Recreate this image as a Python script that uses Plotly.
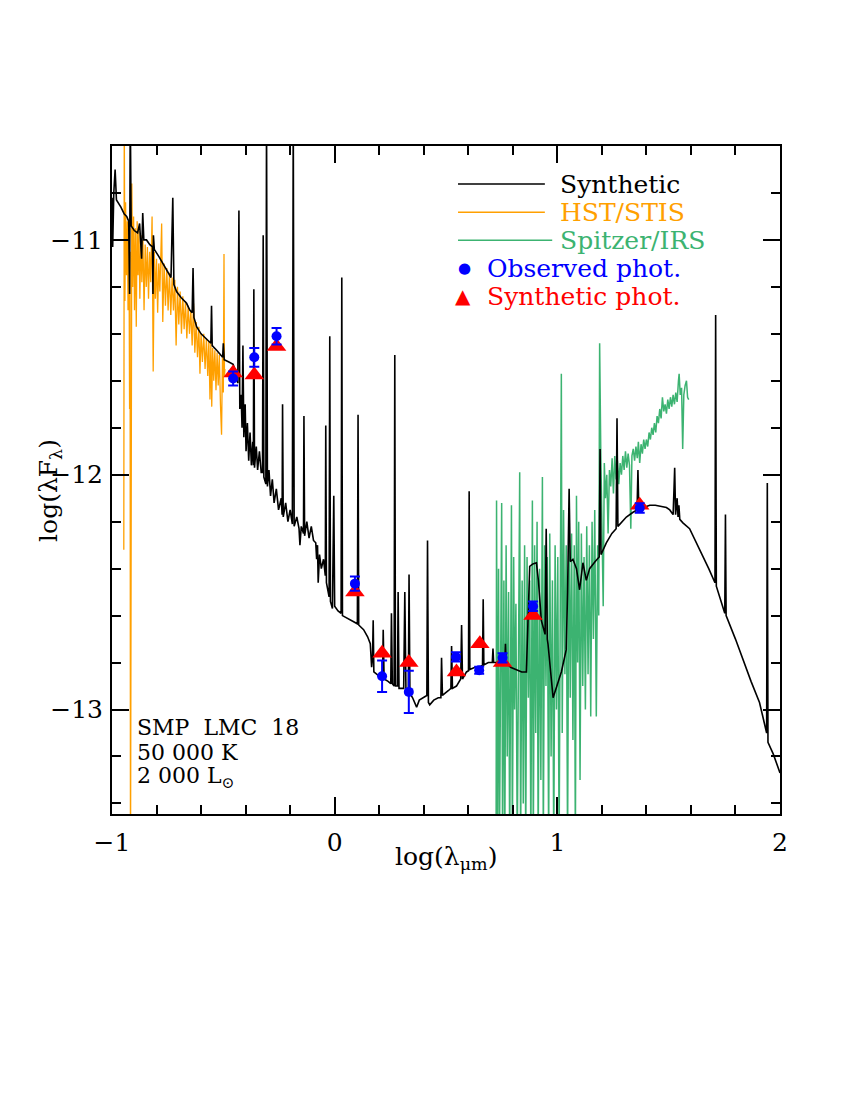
import plotly.graph_objects as go

# synthetic spectrum (log lambda [um], log lambda*F_lambda)
synthetic_pts = [
    [-1.000, -10.82], [-0.997, -11.03], [-0.992, -10.80], [-0.986, -10.70], [-0.980, -10.83],
    [-0.960, -10.86], [-0.945, -10.89], [-0.934, -10.90], [-0.925, -10.92], [-0.921, -11.23],
    [-0.918, -10.45], [-0.914, -10.94], [-0.900, -10.96], [-0.885, -10.97], [-0.876, -10.93],
    [-0.872, -10.99], [-0.867, -11.08], [-0.862, -10.885], [-0.857, -11.00], [-0.845, -11.00],
    [-0.830, -11.02], [-0.818, -11.03], [-0.816, -11.23], [-0.814, -10.98], [-0.810, -11.04],
    [-0.790, -11.07], [-0.760, -11.12], [-0.735, -11.16], [-0.727, -10.82], [-0.722, -11.19],
    [-0.710, -11.22], [-0.690, -11.245], [-0.665, -11.27], [-0.650, -11.30], [-0.640, -11.31],
    [-0.636, -11.12], [-0.632, -11.33], [-0.620, -11.37], [-0.600, -11.40], [-0.580, -11.42],
    [-0.556, -11.44], [-0.553, -11.28], [-0.550, -11.45], [-0.530, -11.47], [-0.503, -11.50],
    [-0.500, -11.44], [-0.496, -11.51], [-0.475, -11.52], [-0.456, -11.53], [-0.445, -11.56],
    [-0.435, -11.61], [-0.430, -10.875], [-0.426, -11.72], [-0.420, -11.66], [-0.416, -11.80],
    [-0.412, -11.45], [-0.408, -11.84], [-0.402, -11.70], [-0.398, -11.90], [-0.392, -11.78],
    [-0.386, -11.94], [-0.380, -11.82], [-0.374, -11.96], [-0.368, -11.86], [-0.365, -11.96],
    [-0.363, -11.21], [-0.360, -11.97], [-0.352, -11.88], [-0.346, -11.98], [-0.338, -11.90],
    [-0.330, -11.99], [-0.324, -11.99], [-0.321, -10.98], [-0.318, -12.01], [-0.309, -12.04],
    [-0.306, -10.45], [-0.302, -12.05], [-0.295, -11.98], [-0.288, -12.09], [-0.280, -12.02],
    [-0.272, -12.12], [-0.262, -12.06], [-0.252, -12.15], [-0.240, -12.10], [-0.236, -12.17],
    [-0.234, -11.70], [-0.231, -12.18], [-0.220, -12.12], [-0.210, -12.20], [-0.200, -12.15],
    [-0.190, -12.21], [-0.186, -10.45], [-0.182, -12.22], [-0.170, -12.18], [-0.160, -12.23],
    [-0.156, -12.30], [-0.150, -12.22], [-0.140, -12.25], [-0.138, -11.75], [-0.135, -12.26],
    [-0.125, -12.20], [-0.115, -12.27], [-0.105, -12.22], [-0.095, -12.28], [-0.085, -12.29],
    [-0.081, -12.36], [-0.077, -12.30], [-0.074, -12.46], [-0.068, -12.34], [-0.060, -12.40],
    [-0.050, -12.36], [-0.042, -12.43], [-0.040, -11.79], [-0.037, -12.46], [-0.025, -12.52],
    [-0.022, -11.41], [-0.019, -12.54], [-0.010, -12.57], [-0.004, -12.09], [0.000, -12.56],
    [0.015, -12.58], [0.029, -12.59], [0.032, -11.16], [0.035, -12.60], [0.053, -12.61],
    [0.070, -12.62], [0.090, -12.63], [0.102, -12.635], [0.105, -11.745], [0.108, -12.64],
    [0.130, -12.66], [0.148, -12.69], [0.160, -12.72], [0.166, -12.82], [0.170, -12.78],
    [0.173, -12.62], [0.176, -12.84], [0.200, -12.86], [0.215, -12.87], [0.218, -12.66],
    [0.222, -12.87], [0.240, -12.88], [0.252, -12.89], [0.255, -12.59], [0.259, -12.89],
    [0.267, -12.90], [0.270, -11.49], [0.273, -12.90], [0.282, -12.90], [0.285, -12.50],
    [0.289, -12.91], [0.310, -12.91], [0.315, -12.50], [0.320, -12.91], [0.331, -12.92],
    [0.334, -12.425], [0.338, -12.93], [0.350, -12.95], [0.368, -12.99], [0.380, -12.96],
    [0.400, -12.95], [0.414, -12.94], [0.417, -12.28], [0.421, -12.97], [0.427, -12.98],
    [0.445, -12.96], [0.465, -12.95], [0.477, -12.95], [0.480, -12.78], [0.484, -12.94],
    [0.510, -12.92], [0.522, -12.91], [0.525, -12.73], [0.529, -12.91], [0.547, -12.90],
    [0.566, -12.87], [0.570, -12.64], [0.574, -12.87], [0.592, -12.84], [0.601, -12.835],
    [0.604, -12.07], [0.607, -12.83], [0.630, -12.82], [0.652, -12.82], [0.664, -12.81],
    [0.667, -12.53], [0.670, -12.81], [0.690, -12.80], [0.708, -12.80], [0.711, -12.74],
    [0.714, -12.80], [0.740, -12.80], [0.764, -12.80], [0.767, -12.72], [0.770, -12.80],
    [0.790, -12.82], [0.816, -12.83], [0.840, -12.84], [0.861, -12.84], [0.866, -12.65],
    [0.872, -12.45], [0.876, -12.39], [0.890, -12.38], [0.906, -12.375], [0.915, -12.45],
    [0.928, -12.62], [0.945, -12.68], [0.950, -12.23], [0.955, -12.70], [0.958, -12.72],
    [0.981, -12.95], [1.000, -12.89], [1.018, -12.84], [1.040, -12.745], [1.046, -12.50],
    [1.053, -12.06], [1.058, -12.37], [1.070, -12.36], [1.086, -12.40], [1.100, -12.49],
    [1.115, -12.375], [1.130, -12.45], [1.145, -12.40], [1.170, -12.37], [1.188, -12.35],
    [1.192, -11.89], [1.196, -12.34], [1.220, -12.29], [1.245, -12.25], [1.264, -12.23],
    [1.268, -11.76], [1.272, -12.22], [1.290, -12.20], [1.310, -12.18], [1.340, -12.16],
    [1.358, -12.15], [1.362, -11.98], [1.366, -12.15], [1.400, -12.135], [1.415, -12.13],
    [1.440, -12.13], [1.470, -12.135], [1.490, -12.14], [1.505, -12.15], [1.520, -12.17],
    [1.524, -12.06], [1.527, -11.97], [1.531, -12.17], [1.538, -12.10], [1.542, -12.18],
    [1.546, -12.13], [1.550, -12.19], [1.564, -12.205], [1.594, -12.23], [1.620, -12.28],
    [1.640, -12.32], [1.680, -12.40], [1.708, -12.46], [1.711, -11.32], [1.714, -12.475],
    [1.740, -12.55], [1.752, -12.59], [1.755, -12.17], [1.758, -12.60], [1.800, -12.70],
    [1.834, -12.79], [1.870, -12.88], [1.908, -12.97], [1.940, -13.10], [1.943, -12.035],
    [1.946, -13.14], [1.970, -13.19], [2.000, -13.27],
]

# HST/STIS spectrum
stis_pts = [
    [-0.947, -12.32], [-0.945, -10.45], [-0.942, -11.26], [-0.939, -10.84], [-0.935, -11.15],
    [-0.931, -10.92], [-0.928, -11.30], [-0.924, -10.95], [-0.921, -11.72], [-0.919, -11.05],
    [-0.917, -13.80], [-0.914, -11.10], [-0.911, -10.76], [-0.907, -11.20], [-0.903, -10.90],
    [-0.899, -11.30], [-0.895, -10.95], [-0.891, -11.37], [-0.887, -10.92], [-0.883, -11.15],
    [-0.879, -10.96], [-0.875, -11.25], [-0.870, -10.98], [-0.866, -11.18], [-0.861, -11.00],
    [-0.856, -11.30], [-0.851, -11.02], [-0.846, -11.20], [-0.841, -11.03], [-0.836, -11.25],
    [-0.831, -11.05], [-0.826, -11.18], [-0.820, -10.90], [-0.815, -11.56], [-0.810, -11.05],
    [-0.805, -11.25], [-0.800, -11.08], [-0.795, -11.31], [-0.790, -11.10], [-0.785, -11.22],
    [-0.777, -10.93], [-0.772, -11.35], [-0.766, -11.10], [-0.760, -11.28], [-0.754, -11.12],
    [-0.748, -11.30], [-0.742, -11.14], [-0.736, -11.32], [-0.730, -11.16], [-0.724, -11.30],
    [-0.718, -11.17], [-0.712, -11.45], [-0.706, -11.20], [-0.700, -11.36], [-0.694, -11.22],
    [-0.688, -11.40], [-0.682, -11.24], [-0.676, -11.38], [-0.670, -11.26], [-0.664, -11.42],
    [-0.658, -11.28], [-0.652, -11.40], [-0.646, -11.30], [-0.640, -11.45], [-0.634, -11.27],
    [-0.628, -11.48], [-0.622, -11.35], [-0.616, -11.50], [-0.610, -11.37], [-0.605, -11.57],
    [-0.600, -11.40], [-0.594, -11.52], [-0.588, -11.40], [-0.582, -11.55], [-0.576, -11.42],
    [-0.570, -11.58], [-0.565, -11.43], [-0.560, -11.68], [-0.556, -11.44], [-0.552, -11.71],
    [-0.548, -11.46], [-0.543, -11.60], [-0.538, -11.47], [-0.533, -11.64], [-0.528, -11.48],
    [-0.523, -11.62], [-0.518, -11.49], [-0.513, -11.70], [-0.508, -11.83], [-0.504, -11.50],
    [-0.500, -11.65], [-0.497, -11.06], [-0.495, -11.58], [-0.493, -11.55],
]

# Spitzer/IRS spectrum
irs_pts = [
    [0.725, -13.60], [0.727, -12.11], [0.731, -13.60], [0.736, -12.40], [0.740, -13.60],
    [0.745, -12.60], [0.750, -12.12], [0.754, -13.60], [0.760, -12.45], [0.764, -13.60],
    [0.770, -12.30], [0.775, -13.20], [0.781, -12.50], [0.786, -13.60], [0.794, -12.13],
    [0.798, -13.60], [0.804, -12.35], [0.808, -13.00], [0.814, -12.55], [0.820, -13.60],
    [0.826, -12.40], [0.831, -11.99], [0.835, -13.60], [0.842, -12.45], [0.847, -13.40],
    [0.853, -12.30], [0.858, -13.60], [0.864, -12.35], [0.870, -12.95], [0.876, -12.45],
    [0.881, -13.60], [0.888, -12.11], [0.892, -13.60], [0.898, -12.30], [0.903, -13.10],
    [0.909, -12.20], [0.914, -13.60], [0.920, -12.40], [0.926, -13.30], [0.933, -12.01],
    [0.937, -13.60], [0.943, -12.30], [0.949, -12.90], [0.955, -12.35], [0.961, -13.60],
    [0.966, -12.25], [0.972, -13.20], [0.978, -12.45], [0.984, -13.60], [0.990, -12.30],
    [0.996, -13.00], [1.002, -12.35], [1.008, -13.60], [1.013, -12.20], [1.018, -11.57],
    [1.022, -13.10], [1.028, -12.15], [1.034, -12.85], [1.040, -12.30], [1.046, -13.60],
    [1.052, -12.18], [1.058, -12.95], [1.064, -12.25], [1.070, -13.13], [1.076, -12.30],
    [1.081, -13.60], [1.086, -12.09], [1.091, -12.80], [1.096, -12.20], [1.102, -13.30],
    [1.108, -12.25], [1.114, -12.90], [1.120, -12.35], [1.126, -13.00], [1.132, -12.22],
    [1.138, -12.85], [1.144, -12.30], [1.150, -13.03], [1.156, -12.20], [1.162, -12.70],
    [1.168, -12.15], [1.175, -13.03], [1.181, -12.30], [1.186, -12.60], [1.190, -11.44],
    [1.195, -11.89], [1.200, -12.20], [1.206, -12.56], [1.211, -11.95], [1.216, -12.10],
    [1.222, -12.00], [1.228, -12.25], [1.234, -11.98], [1.240, -12.05], [1.246, -11.93],
    [1.252, -12.08], [1.258, -11.92], [1.264, -12.02], [1.270, -11.94], [1.276, -12.04],
    [1.282, -11.95], [1.288, -12.00], [1.294, -11.92], [1.300, -11.98], [1.306, -11.90],
    [1.312, -11.97], [1.318, -11.91], [1.324, -11.96], [1.330, -12.23], [1.335, -11.92],
    [1.341, -11.89], [1.347, -11.94], [1.353, -11.88], [1.359, -11.93], [1.364, -11.86],
    [1.370, -11.95], [1.376, -11.87], [1.382, -11.91], [1.388, -11.85], [1.394, -11.89],
    [1.400, -11.85], [1.406, -11.88], [1.412, -11.82], [1.418, -11.85], [1.424, -11.80],
    [1.430, -11.83], [1.436, -11.78], [1.442, -11.82], [1.448, -11.75], [1.454, -11.78],
    [1.460, -11.72], [1.466, -11.76], [1.472, -11.67], [1.478, -11.73], [1.484, -11.70],
    [1.490, -11.74], [1.496, -11.68], [1.502, -11.72], [1.508, -11.67], [1.514, -11.71],
    [1.520, -11.66], [1.526, -11.70], [1.532, -11.65], [1.538, -11.69], [1.544, -11.60],
    [1.547, -11.57], [1.552, -11.66], [1.558, -11.63], [1.563, -11.89], [1.568, -11.66],
    [1.574, -11.62], [1.580, -11.60], [1.585, -11.67], [1.590, -11.68],
]

# photometry
obs_logw = [-0.456, -0.361, -0.261, 0.091, 0.213, 0.333, 0.545, 0.649, 0.754, 0.891, 1.370]
obs_logf = [-11.59, -11.50, -11.41, -12.464, -12.858, -12.925, -12.776, -12.833, -12.78, -12.56, -12.142]
obs_err = [0.03, 0.04, 0.035, 0.03, 0.067, 0.09, 0.02, 0.015, 0.02, 0.02, 0.02]

synphot_logw = [-0.456, -0.361, -0.261, 0.091, 0.213, 0.333, 0.547, 0.652, 0.754, 0.891, 1.370]
synphot_logf = [-11.567, -11.575, -11.454, -12.50, -12.76, -12.80, -12.84, -12.72, -12.80, -12.60, -12.13]

info_lines = ["SMP  LMC  18", "50 000 K", "2 000 L<sub>⊙</sub>"]

SERIF = "DejaVu Serif"
ORANGE = "#FFA000"
GREEN = "#3CB371"

fig = go.Figure()

fig.add_trace(go.Scatter(
    x=[p[0] for p in stis_pts], y=[p[1] for p in stis_pts],
    mode='lines', line=dict(color=ORANGE, width=1.3), name='HST/STIS'))
fig.add_trace(go.Scatter(
    x=[p[0] for p in irs_pts], y=[p[1] for p in irs_pts],
    mode='lines', line=dict(color=GREEN, width=1.5), name='Spitzer/IRS'))
fig.add_trace(go.Scatter(
    x=[p[0] for p in synthetic_pts], y=[p[1] for p in synthetic_pts],
    mode='lines', line=dict(color='black', width=1.6), name='Synthetic'))
fig.add_trace(go.Scatter(
    x=synphot_logw, y=synphot_logf, mode='markers',
    marker=dict(symbol='triangle-up', size=17, color='red'), name='Synthetic phot.'))
fig.add_trace(go.Scatter(
    x=obs_logw, y=obs_logf, mode='markers',
    marker=dict(symbol='circle', size=10, color='blue'),
    error_y=dict(type='data', array=obs_err, color='blue', thickness=2, width=5),
    name='Observed phot.'))

# legend drawn by hand (top right, inside the frame)
legend_lines = [("Synthetic", 'black', 0.943, 0.648),
                ("HST/STIS", ORANGE, 0.901, 0.648),
                ("Spitzer/IRS", GREEN, 0.859, 0.659)]
for label, col, yy, xend in legend_lines:
    fig.add_shape(type='line', xref='paper', yref='paper', x0=0.518, x1=xend, y0=yy, y1=yy,
                  line=dict(color=col, width=1.5))
    fig.add_annotation(xref='paper', yref='paper', x=0.668, y=yy, text=label, showarrow=False,
                       xanchor='left', yanchor='middle', font=dict(family=SERIF, size=25, color=col))

fig.add_annotation(xref='paper', yref='paper', x=0.527, y=0.817, text="●", showarrow=False,
                   xanchor='center', yanchor='middle', font=dict(family="DejaVu Sans", size=15, color='blue'))
fig.add_annotation(xref='paper', yref='paper', x=0.558, y=0.817, text="Observed phot.", showarrow=False,
                   xanchor='left', yanchor='middle', font=dict(family=SERIF, size=25, color='blue'))
fig.add_annotation(xref='paper', yref='paper', x=0.526, y=0.775, text="▲", showarrow=False,
                   xanchor='center', yanchor='middle', font=dict(family="DejaVu Sans", size=20, color='red'))
fig.add_annotation(xref='paper', yref='paper', x=0.558, y=0.775, text="Synthetic phot.", showarrow=False,
                   xanchor='left', yanchor='middle', font=dict(family=SERIF, size=25, color='red'))

for i, line in enumerate(info_lines):
    fig.add_annotation(xref='paper', yref='paper', x=0.034, y=0.129 - i * 0.037, text=line,
                       showarrow=False, xanchor='left', yanchor='middle',
                       font=dict(family=SERIF, size=22, color='black'))

# axis titles placed as annotations so their distance from the frame matches
fig.add_annotation(xref='paper', yref='paper', x=0.5, y=-0.066, text="log(λ<sub>μm</sub>)",
                   showarrow=False, xanchor='center', yanchor='middle',
                   font=dict(family=SERIF, size=25, color='black'))
fig.add_annotation(xref='paper', yref='paper', x=-0.093, y=0.485, text="log(λF<sub>λ</sub>)",
                   showarrow=False, xanchor='center', yanchor='middle', textangle=-90,
                   font=dict(family=SERIF, size=25, color='black'))

axis_common = dict(
    ticks='inside', ticklen=17, tickwidth=1.5, tickcolor='black',
    showline=True, linewidth=2, linecolor='black', mirror='ticks',
    showgrid=False, zeroline=False,
    tickfont=dict(family=SERIF, size=25, color='black'),
)

fig.update_xaxes(
    range=[-1, 2], tick0=-1, dtick=1,
    minor=dict(tick0=-1, dtick=0.2, ticks='inside', ticklen=9, tickwidth=1.5, tickcolor='black', showgrid=False),
    ticklabelstandoff=5,
    **axis_common)
fig.update_yaxes(
    range=[-13.445, -10.6], tick0=-13, dtick=1,
    minor=dict(tick0=-13, dtick=0.2, ticks='inside', ticklen=9, tickwidth=1.5, tickcolor='black', showgrid=False),
    ticklabelstandoff=2,
    **axis_common)

# the page body adds an 8 px offset, so the margins are reduced by that much
fig.update_layout(
    width=834, height=1084,
    margin=dict(l=104, r=62, t=138, b=278),
    plot_bgcolor='white', paper_bgcolor='white',
    showlegend=False,
    font=dict(family=SERIF, size=24, color='black'),
)

fig.write_html("out.html")
